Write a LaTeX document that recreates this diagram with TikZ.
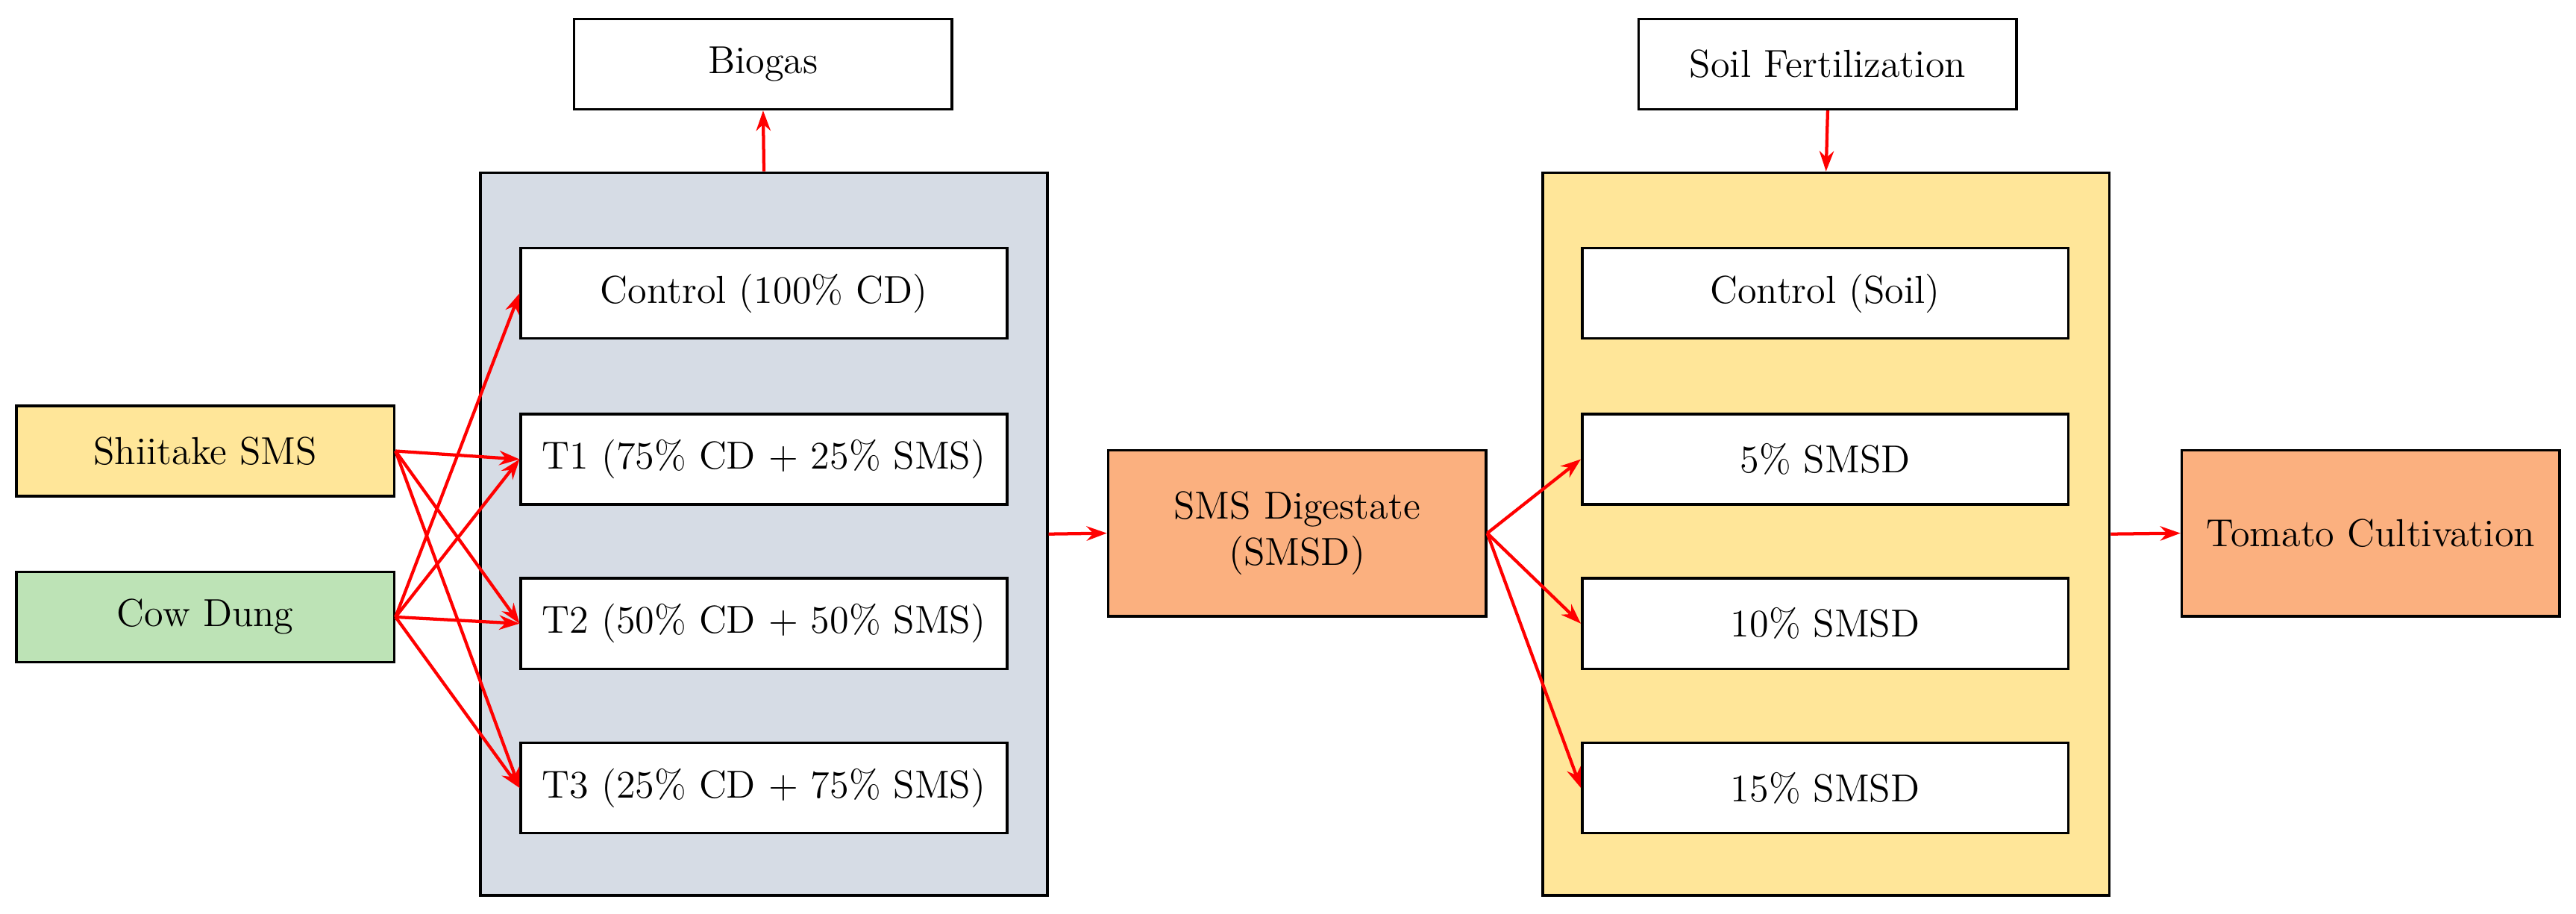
\documentclass[tikz,border=0pt]{standalone}
\usetikzlibrary{arrows.meta}
\definecolor{panelgrey}{HTML}{D6DCE5}
\definecolor{paleyellow}{HTML}{FFE699}
\definecolor{palegreen}{HTML}{BDE3B6}
\definecolor{paleorange}{HTML}{FBB07F}
\tikzset{
  box/.style={draw,line width=0.9pt,fill=white,minimum width=5.92cm,minimum height=1.1cm,inner sep=0pt,font=\fontsize{13.5}{16}\selectfont,align=center},
  inbox/.style={box,minimum width=4.6cm},
  panel/.style={draw,line width=0.9pt,minimum width=6.9cm,minimum height=8.8cm,inner sep=0pt},
  flow/.style={red,line width=1.1pt,-{Stealth[length=7pt,width=5pt]}}
}
\begin{document}
\begin{tikzpicture}[x=0.02cm,y=-0.02cm]
  \useasboundingbox (0,0) rectangle (1568,556);
  % panels
  \node[panel,fill=panelgrey] (digest) at (465,325) {};
  \node[panel,fill=paleyellow] (pot) at (1111.5,325) {};
  % top boxes
  \node[inbox] (biogas) at (464.5,39) {Biogas};
  \node[inbox] (fert) at (1112.5,39) {Soil Fertilization};
  % treatments
  \node[box] (ctl) at (465,178.5) {Control (100\% CD)};
  \node[box] (t1) at (465,279.5) {T1 (75\% CD + 25\% SMS)};
  \node[box] (t2) at (465,379.5) {T2 (50\% CD + 50\% SMS)};
  \node[box] (t3) at (465,479.5) {T3 (25\% CD + 75\% SMS)};
  \node[box] (soil) at (1111,178.5) {Control (Soil)};
  \node[box] (s5) at (1111,279.5) {5\% SMSD};
  \node[box] (s10) at (1111,379.5) {10\% SMSD};
  \node[box] (s15) at (1111,479.5) {15\% SMSD};
  % feedstocks and products
  \node[inbox,fill=paleyellow] (sms) at (125,274.5) {Shiitake SMS};
  \node[inbox,fill=palegreen] (cow) at (125,375.5) {Cow Dung};
  \node[inbox,fill=paleorange,minimum height=2.02cm] (smsd) at (789.5,324.5) {SMS Digestate\\(SMSD)};
  \node[inbox,fill=paleorange,minimum height=2.02cm] (tomato) at (1443,324.5) {Tomato Cultivation};
  % connectors
  \foreach \t in {t1,t2,t3} \draw[flow] (sms.east) -- (\t.west);
  \foreach \t in {ctl,t1,t2,t3} \draw[flow] (cow.east) -- (\t.west);
  \draw[flow] (digest.north) -- (biogas.south);
  \draw[flow] (digest.east) -- (smsd.west);
  \foreach \t in {s5,s10,s15} \draw[flow] (smsd.east) -- (\t.west);
  \draw[flow] (fert.south) -- (pot.north);
  \draw[flow] (pot.east) -- (tomato.west);
\end{tikzpicture}
\end{document}
